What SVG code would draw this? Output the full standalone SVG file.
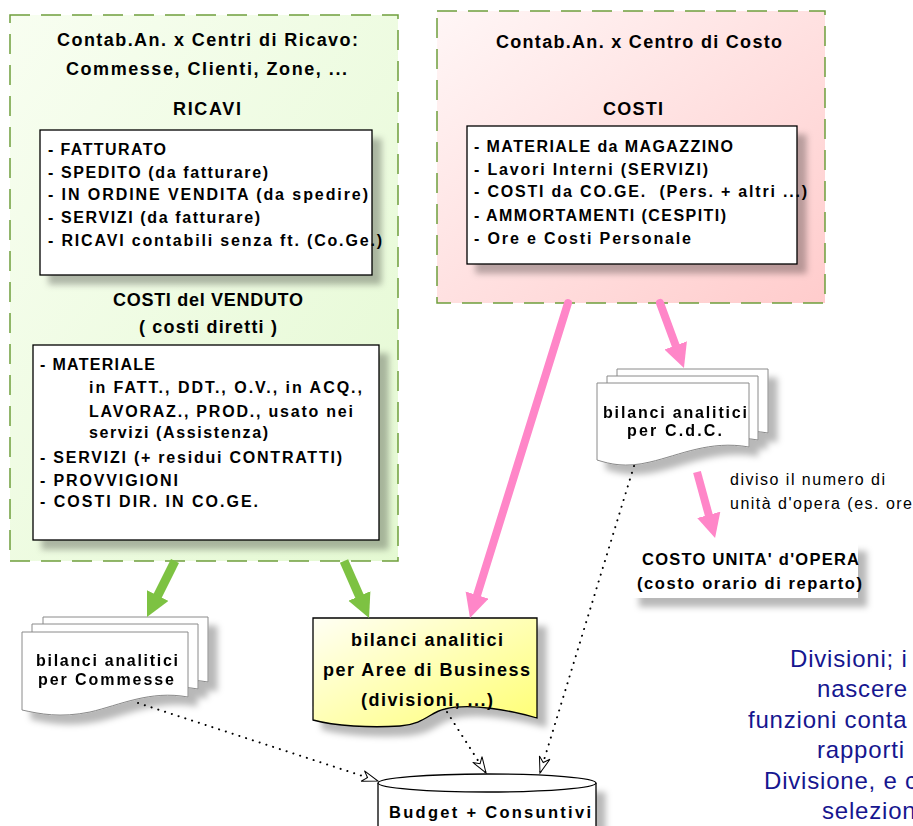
<svg xmlns="http://www.w3.org/2000/svg" width="913" height="826" viewBox="0 0 913 826">
<defs>
<style>
.t{font-family:"Liberation Sans",Arial,sans-serif;font-weight:bold;fill:#000}
.t17{font-size:18px}
.t15{font-size:16px}
.t16{font-size:16.5px}
.reg{font-family:"Liberation Sans",Arial,sans-serif;font-size:16px;fill:#000}
.blue{font-family:"Liberation Sans",Arial,sans-serif;font-size:24px;fill:#16168f;letter-spacing:0.8px}
.cont{stroke:#6f9f3c;stroke-width:1.5;stroke-dasharray:20 11}
.box{fill:#fff;stroke:#000;stroke-width:1.3}
.page{fill:#fff;stroke:#8a8a8a;stroke-width:1}
.pink{stroke:#ff86c8;stroke-width:8;stroke-linecap:round;fill:none}
.green{stroke:#7dc242;stroke-width:9;stroke-linecap:round;fill:none}
.dot{stroke:#000;stroke-width:2;stroke-dasharray:0.1 7;stroke-linecap:round;fill:none}
</style>
<linearGradient id="gGreen" x1="0" y1="0" x2="1" y2="1">
<stop offset="0" stop-color="#f8fef1"/><stop offset="1" stop-color="#e4f9d2"/>
</linearGradient>
<linearGradient id="gPink" x1="0" y1="0" x2="1" y2="1">
<stop offset="0" stop-color="#fff6f6"/><stop offset="1" stop-color="#ffcccc"/>
</linearGradient>
<linearGradient id="gYellow" x1="0" y1="0" x2="1" y2="1">
<stop offset="0" stop-color="#fffff4"/><stop offset="1" stop-color="#ffff72"/>
</linearGradient>
<filter id="sh" x="-10%" y="-10%" width="130%" height="140%">
<feDropShadow dx="9" dy="9" stdDeviation="3" flood-color="#000" flood-opacity="0.28"/>
</filter>
<marker id="hPink" markerUnits="userSpaceOnUse" markerWidth="26" markerHeight="26" refX="1" refY="12" orient="auto">
<path d="M0,0 L24,12 L0,24 Z" fill="#ff86c8"/>
</marker>
<marker id="hGreen" markerUnits="userSpaceOnUse" markerWidth="26" markerHeight="26" refX="1" refY="12" orient="auto">
<path d="M0,0 L24,12 L0,24 Z" fill="#7dc242"/>
</marker>
<marker id="hOpen" markerUnits="userSpaceOnUse" markerWidth="20" markerHeight="14" refX="17" refY="6.5" orient="auto">
<path d="M1,1 L17,6.5 L1,12 L6,6.5 Z" fill="#fff" stroke="#000" stroke-width="1"/>
</marker>
</defs>

<g id="ricavi-centri">
<rect x="10" y="15" width="388" height="546" fill="url(#gGreen)" class="cont"/>
<text class="t t17" x="57" y="46" textLength="301">Contab.An. x Centri di Ricavo:</text>
<text class="t t17" x="66" y="75" textLength="281">Commesse, Clienti, Zone, ...</text>
<text class="t t17" x="173" y="115" textLength="68">RICAVI</text>
<rect x="40" y="130" width="332" height="145" class="box" filter="url(#sh)"/>
<text class="t t15" x="48" y="155" textLength="118">- FATTURATO</text>
<text class="t t15" x="48" y="178" textLength="220">- SPEDITO (da fatturare)</text>
<text class="t t15" x="48" y="200" textLength="320">- IN ORDINE VENDITA (da spedire)</text>
<text class="t t15" x="48" y="223" textLength="212">- SERVIZI (da fatturare)</text>
<text class="t t15" x="48" y="246" textLength="334">- RICAVI contabili senza ft. (Co.Ge.)</text>
<text class="t t17" x="113" y="306" textLength="190">COSTI del VENDUTO</text>
<text class="t t17" x="139" y="333" textLength="138">( costi diretti )</text>
<rect x="33" y="345" width="346" height="195" class="box" filter="url(#sh)"/>
<text class="t t15" x="40" y="370" textLength="115">- MATERIALE</text>
<text class="t t15" x="89" y="393" textLength="273">in FATT., DDT., O.V., in ACQ.,</text>
<text class="t t15" x="89" y="417" textLength="264">LAVORAZ., PROD., usato nei</text>
<text class="t t15" x="89" y="438" textLength="179">servizi (Assistenza)</text>
<text class="t t15" x="40" y="463" textLength="302">- SERVIZI (+ residui CONTRATTI)</text>
<text class="t t15" x="40" y="486" textLength="138">- PROVVIGIONI</text>
<text class="t t15" x="40" y="507" textLength="218">- COSTI DIR. IN CO.GE.</text>
</g>

<g id="costo-centro">
<rect x="437" y="11" width="388" height="292" fill="url(#gPink)" class="cont"/>
<text class="t t17" x="496" y="48" textLength="286">Contab.An. x Centro di Costo</text>
<text class="t t17" x="603" y="115" textLength="60">COSTI</text>
<rect x="467" y="126" width="330" height="138" class="box" filter="url(#sh)"/>
<text class="t t15" x="474" y="152" textLength="259">- MATERIALE da MAGAZZINO</text>
<text class="t t15" x="474" y="175" textLength="234">- Lavori Interni (SERVIZI)</text>
<text class="t t15" x="474" y="197" textLength="333" style="white-space:pre">- COSTI da CO.GE.  (Pers. + altri ...)</text>
<text class="t t15" x="474" y="221" textLength="252">- AMMORTAMENTI (CESPITI)</text>
<text class="t t15" x="474" y="244" textLength="217">- Ore e Costi Personale</text>
</g>

<g id="bilanci-cdc" filter="url(#sh)">
<path class="page" d="M617,369 H768 V433 C729,426 699,441 669,448 C644,454 629,450 617,446 Z"/>
<path class="page" d="M607,376 H758 V440 C719,433 689,448 659,455 C634,461 619,457 607,453 Z"/>
<path class="page" d="M597,383 H749 V447 C710,440 680,455 650,462 C625,468 610,464 597,460 Z"/>
<text class="t t15" x="603" y="418" textLength="144">bilanci analitici</text>
<text class="t t15" x="627" y="436" textLength="95">per C.d.C.</text>
</g>

<g id="costo-unita">
<rect x="630" y="542" width="228" height="56" fill="#fff" filter="url(#sh)"/>
<text class="t t16" x="642" y="565" textLength="217">COSTO UNITA' d'OPERA</text>
<text class="t t16" x="637" y="589" textLength="225">(costo orario di reparto)</text>
</g>

<g id="bilanci-commesse" filter="url(#sh)">
<path class="page" d="M43,617 H208 V682 C170,675 140,690 110,697 C80,703 60,699 43,695 Z"/>
<path class="page" d="M32,624 H198 V689 C160,682 130,697 100,704 C70,710 50,706 32,702 Z"/>
<path class="page" d="M22,632 H188 V697 C150,690 120,705 90,712 C60,718 40,714 22,710 Z"/>
<text class="t t15" x="36" y="666" textLength="142">bilanci analitici</text>
<text class="t t15" x="38" y="685" textLength="136">per Commesse</text>
</g>

<g id="bilanci-aree">
<path d="M313,618 H537 V718 C510,710 470,703 445,709 C430,712 425,724 400,726 C370,728 335,726 313,720 Z" fill="url(#gYellow)" stroke="#000" stroke-width="1.3" filter="url(#sh)"/>
<text class="t t17" x="351" y="646" textLength="152">bilanci analitici</text>
<text class="t t17" x="323" y="676" textLength="207">per Aree di Business</text>
<text class="t t17" x="361" y="706" textLength="132">(divisioni, ...)</text>
</g>

<g id="budget">
<path d="M378,783 V840 H596 V783" fill="#fff" stroke="#000" stroke-width="1.3" filter="url(#sh)"/>
<ellipse cx="487" cy="783" rx="109" ry="9" fill="#fff" stroke="#000" stroke-width="1.3"/>
<text class="t t16" x="389" y="818" textLength="202">Budget + Consuntivi</text>
</g>

<g id="connectors">
<line class="pink" x1="568" y1="303" x2="476.8" y2="596" marker-end="url(#hPink)"/>
<line class="pink" x1="660" y1="303" x2="676" y2="346.4" marker-end="url(#hPink)"/>
<line class="pink" x1="697" y1="472" x2="709" y2="515.8" marker-end="url(#hPink)" style="stroke-linecap:butt"/>
<line class="green" x1="175" y1="561" x2="157.3" y2="596.4" marker-end="url(#hGreen)" style="stroke-linecap:butt"/>
<line class="green" x1="344" y1="561" x2="359.8" y2="596.9" marker-end="url(#hGreen)" style="stroke-linecap:butt"/>
<line class="dot" x1="138" y1="703" x2="378" y2="781" marker-end="url(#hOpen)"/>
<line class="dot" x1="447" y1="712" x2="486" y2="773" marker-end="url(#hOpen)"/>
<line class="dot" x1="634" y1="466" x2="540" y2="773" marker-end="url(#hOpen)"/>
<text class="reg" x="730" y="485" textLength="155">diviso il numero di</text>
<text class="reg" x="730" y="509" textLength="182">unità d'opera (es. ore</text>
</g>

<g id="note">
<text class="blue" x="790" y="667">Divisioni; i</text>
<text class="blue" x="817" y="697">nascere</text>
<text class="blue" x="748" y="728">funzioni conta</text>
<text class="blue" x="817" y="758">rapporti</text>
<text class="blue" x="764" y="789">Divisione, e c</text>
<text class="blue" x="822" y="819">selezion</text>
</g>
</svg>
